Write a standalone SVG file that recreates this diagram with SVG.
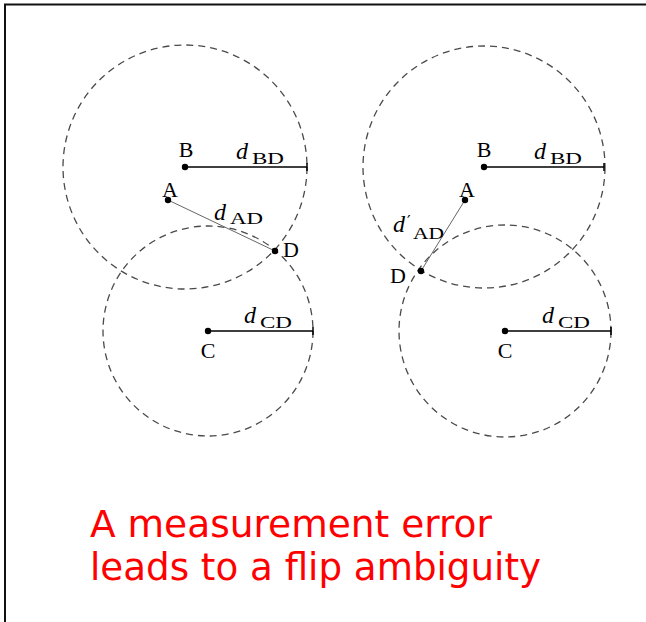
<svg xmlns="http://www.w3.org/2000/svg" width="646" height="622" viewBox="0 0 646 622">
<style>
.rng{fill:none;stroke:#4a4a4a;stroke-width:1.3;stroke-dasharray:7 5}
.rad{stroke:#000;stroke-width:1.5;fill:none}
.ad{stroke:#666;stroke-width:1;fill:none}
.pt{fill:#000}
.lbl{font-family:"Liberation Serif","DejaVu Serif",serif;font-size:22px;fill:#000}
.d{font-family:"Liberation Serif","DejaVu Serif",serif;font-style:italic;font-size:24px;fill:#000}
.sub{font-family:"Liberation Serif","DejaVu Serif",serif;font-style:normal;font-size:17px}
.pr{font-family:"DejaVu Sans","Liberation Sans",sans-serif;font-style:normal;font-size:16px}
.cap{font-family:"DejaVu Sans","Verdana",sans-serif;font-size:37px;fill:#ff0000}
</style>
<rect width="646" height="622" fill="#fff"/>
<path d="M5 622 V4.5 H646" fill="none" stroke="#111" stroke-width="2"/>

<g id="ranges">
<circle class="rng" cx="185" cy="167" r="122"/>
<circle class="rng" cx="208" cy="331" r="105"/>
<circle class="rng" cx="484" cy="167" r="121"/>
<circle class="rng" cx="505" cy="331" r="106"/>
</g>

<g id="connectors">
<path class="rad" d="M185 167 H307 M307 163 V171"/>
<path class="rad" d="M208 331 H313 M313 327 V335"/>
<path class="ad" d="M168 200 L275 251"/>
<path class="rad" d="M484 167 H604 M604 163 V171"/>
<path class="rad" d="M505 331 H611 M611 327 V335"/>
<path class="ad" d="M465 200 L421 271"/>
</g>

<g id="left-B"><circle class="pt" cx="185" cy="167" r="3.2"/><text class="lbl" x="186" y="157" text-anchor="middle">B</text></g>
<g id="left-A"><circle class="pt" cx="168" cy="200" r="3.2"/><text class="lbl" x="170" y="197" text-anchor="middle">A</text></g>
<g id="left-D"><circle class="pt" cx="275" cy="251" r="3.2"/><text class="lbl" x="283" y="257">D</text></g>
<g id="left-C"><circle class="pt" cx="208" cy="331" r="3.2"/><text class="lbl" x="208" y="358" text-anchor="middle">C</text></g>

<g id="right-B"><circle class="pt" cx="484" cy="167" r="3.2"/><text class="lbl" x="484" y="157" text-anchor="middle">B</text></g>
<g id="right-A"><circle class="pt" cx="465" cy="200" r="3.2"/><text class="lbl" x="467" y="197" text-anchor="middle">A</text></g>
<g id="right-D"><circle class="pt" cx="421" cy="271" r="3.2"/><text class="lbl" x="390" y="283">D</text></g>
<g id="right-C"><circle class="pt" cx="505" cy="331" r="3.2"/><text class="lbl" x="505" y="358" text-anchor="middle">C</text></g>

<g id="labels">
<text class="d" x="236" y="159">d<tspan class="sub" x="252" y="163.5" textLength="32" lengthAdjust="spacingAndGlyphs">BD</tspan></text>
<text class="d" x="214" y="220">d<tspan class="sub" x="230" y="224" textLength="33" lengthAdjust="spacingAndGlyphs">AD</tspan></text>
<text class="d" x="244" y="323">d<tspan class="sub" x="260" y="327.5" textLength="32" lengthAdjust="spacingAndGlyphs">CD</tspan></text>
<text class="d" x="534" y="159">d<tspan class="sub" x="550" y="163.5" textLength="32" lengthAdjust="spacingAndGlyphs">BD</tspan></text>
<text class="d" x="393" y="232">d<tspan class="pr" x="407" y="227">′</tspan><tspan class="sub" x="413" y="238.5" textLength="31" lengthAdjust="spacingAndGlyphs">AD</tspan></text>
<text class="d" x="542" y="323">d<tspan class="sub" x="558" y="327.5" textLength="32" lengthAdjust="spacingAndGlyphs">CD</tspan></text>
</g>

<g id="caption">
<text class="cap" x="90" y="537" textLength="402" lengthAdjust="spacingAndGlyphs">A measurement error</text>
<text class="cap" x="90" y="580" textLength="451" lengthAdjust="spacingAndGlyphs">leads to a flip ambiguity</text>
</g>
</svg>
